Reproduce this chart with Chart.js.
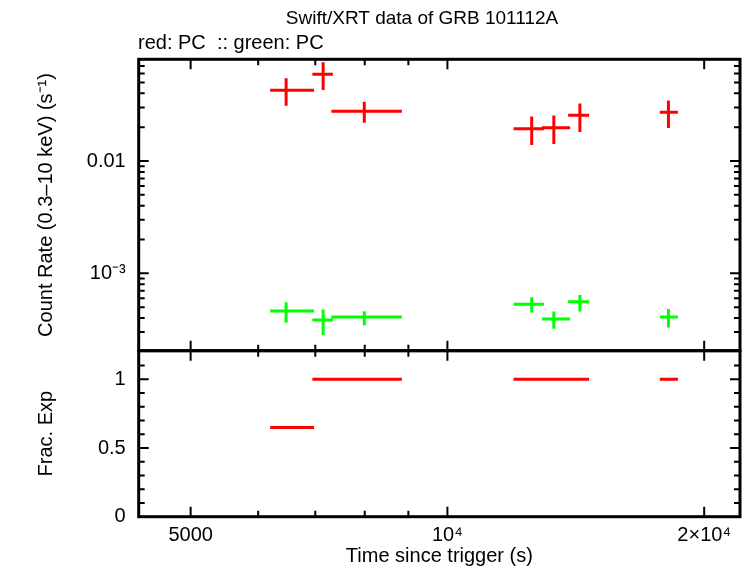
<!DOCTYPE html>
<html><head><meta charset="utf-8">
<script src="https://cdn.jsdelivr.net/npm/chart.js@4/dist/chart.umd.min.js"></script>
<style>
html,body{margin:0;padding:0;background:#fff;}
#wrap{position:relative;width:746px;height:568px;background:#fff;}
canvas{position:absolute;left:0;top:0;}
</style></head><body>
<div id="wrap"><canvas id="cTop" width="746" height="568"></canvas><canvas id="cBot" width="746" height="568"></canvas></div>
<script>
// ---- data ----
const times     = [6470, 7150, 7990, 12555, 13328, 14299, 18160];
const timeLo    = [6197, 6945, 7311, 11955, 12904, 13853, 17742];
const timeHi    = [6977, 7340, 8843, 12973, 13927, 14659, 18630];
const redRate   = [0.0426, 0.0592, 0.0277, 0.0194, 0.0198, 0.0256, 0.0272];
const redLo     = [0.0311, 0.0429, 0.0219, 0.0139, 0.0142, 0.0181, 0.0197];
const redHi     = [0.0545, 0.0757, 0.0337, 0.0249, 0.0254, 0.0325, 0.0346];
const greenRate = [4.62e-4, 3.84e-4, 4.08e-4, 5.31e-4, 3.93e-4, 5.58e-4, 4.08e-4];
const greenLo   = [3.63e-4, 2.82e-4, 3.46e-4, 4.48e-4, 3.22e-4, 4.57e-4, 3.29e-4];
const greenHi   = [5.52e-4, 4.78e-4, 4.59e-4, 6.12e-4, 4.57e-4, 6.43e-4, 4.81e-4];
const fracExp   = [0.65, 1, 1, 1, 1, 1, 1];

const xTickVals  = [5000, 6000, 7000, 8000, 9000, 10000, 20000];
const xMajor     = [5000, 10000, 20000];
const xTickText  = {5000: '5000', 10000: '10⁴', 20000: '2×10⁴'};
const yTopTickVals = [2e-4,3e-4,4e-4,5e-4,6e-4,7e-4,8e-4,9e-4,1e-3,2e-3,3e-3,4e-3,5e-3,6e-3,7e-3,8e-3,9e-3,1e-2,2e-2,3e-2,4e-2,5e-2,6e-2,7e-2,8e-2];
const yTopMajor  = [1e-3, 1e-2];
const yTopText   = {0.001: '10⁻³', 0.01: '0.01'};
const yBotTickVals = [0,0.1,0.2,0.3,0.4,0.5,0.6,0.7,0.8,0.9,1,1.1];
const yBotMajor  = [0, 0.5, 1];
const yBotText   = {0: '0', 0.5: '0.5', 1: '1'};

const titleText = 'Swift/XRT data of GRB 101112A';
const subText = 'red: PC  :: green: PC';

// ---- layout ----
const L = 138.7, R = 740, T = 59.3, M = 350.7, B = 516.7, W = 746, H = 568;
const FONT = 'Liberation Sans, Arial, sans-serif';
const FS = 20;

function errSegments(xs, xl, xh, ys, yl, yh) {
  const pts = [];
  for (let i = 0; i < xs.length; i++) {
    pts.push({x: xl[i], y: ys[i]}, {x: xh[i], y: ys[i]}, {x: xs[i], y: null});
    pts.push({x: xs[i], y: yl[i]}, {x: xs[i], y: yh[i]}, {x: xs[i], y: null});
  }
  return pts;
}
function hSegments(xl, xh, ys) {
  const pts = [];
  for (let i = 0; i < xl.length; i++) {
    pts.push({x: xl[i], y: ys[i]}, {x: xh[i], y: ys[i]}, {x: xh[i], y: null});
  }
  return pts;
}
function near(v, arr) { return arr.some(a => Math.abs(a - v) <= Math.abs(a) * 1e-6 + 1e-12); }
function lookup(map, v) {
  for (const k in map) { const kv = parseFloat(k); if (Math.abs(kv - v) <= Math.abs(kv) * 1e-6 + 1e-12) return map[k]; }
  return '';
}

const framePlugin = {
  id: 'frame',
  afterDatasetsDraw(chart, args, opts) {
    const {ctx, chartArea: a, scales} = chart;
    ctx.save();
    ctx.strokeStyle = '#000';
    ctx.lineWidth = 2;
    ctx.beginPath();
    const xs = scales.x;
    xs.ticks.forEach(t => {
      const px = xs.getPixelForValue(t.value);
      const len = near(t.value, opts.xMajor) ? 10 : 6;
      ctx.moveTo(px, a.top); ctx.lineTo(px, a.top + len);
      ctx.moveTo(px, a.bottom); ctx.lineTo(px, a.bottom - len);
    });
    const ys = scales.y;
    ys.ticks.forEach(t => {
      const py = ys.getPixelForValue(t.value);
      if (py < a.top + 1 || py > a.bottom - 1) return;
      const len = near(t.value, opts.yMajor) ? 10 : 6;
      ctx.moveTo(a.left, py); ctx.lineTo(a.left + len, py);
      ctx.moveTo(a.right, py); ctx.lineTo(a.right - len, py);
    });
    ctx.stroke();
    ctx.lineWidth = 3;
    ctx.strokeRect(a.left, a.top, a.right - a.left, a.bottom - a.top);
    if (opts.title) {
      ctx.fillStyle = '#000';
      ctx.textBaseline = 'middle';
      ctx.font = '19px ' + FONT;
      ctx.textAlign = 'center';
      ctx.fillText(titleText, 422, 19);
      ctx.font = FS + 'px ' + FONT;
      ctx.textAlign = 'left';
      ctx.fillText(subText, 138, 43);
    }
    ctx.restore();
  }
};

const common = {
  responsive: false,
  animation: false,
  events: [],
  plugins: {legend: {display: false}, tooltip: {enabled: false}, title: {display: false}},
  elements: {point: {radius: 0}, line: {borderWidth: 3, borderCapStyle: 'butt', tension: 0}},
};

function xScale(showLabels) {
  return {
    type: 'logarithmic', min: 4346, max: 22030,
    afterBuildTicks: s => { s.ticks = xTickVals.map(v => ({value: v})); },
    afterFit: s => { s.height = showLabels ? (H - B) : 0; },
    grid: {display: false, drawTicks: false},
    border: {display: false},
    ticks: {
      display: showLabels, autoSkip: false, maxRotation: 0, padding: 7,
      color: '#000', font: {family: FONT, size: FS},
      callback: v => lookup(xTickText, v)
    },
    title: showLabels ? {display: true, text: 'Time since trigger (s)', color: '#000',
      font: {family: FONT, size: FS}, padding: {top: 0, bottom: 0}} : {display: false}
  };
}

new Chart(document.getElementById('cTop'), {
  type: 'line',
  data: {datasets: [
    {data: errSegments(times, timeLo, timeHi, redRate, redLo, redHi), borderColor: '#ff0000', spanGaps: false},
    {data: errSegments(times, timeLo, timeHi, greenRate, greenLo, greenHi), borderColor: '#00ff00', spanGaps: false}
  ]},
  options: Object.assign({}, common, {
    layout: {padding: {left: 0, top: T, right: W - R, bottom: H - M}},
    scales: {
      x: xScale(false),
      y: {
        type: 'logarithmic', min: 2.05e-4, max: 0.0804,
        afterBuildTicks: s => { s.ticks = yTopTickVals.map(v => ({value: v})); },
        afterFit: s => { s.width = L; },
        grid: {display: false, drawTicks: false},
        border: {display: false},
        ticks: {autoSkip: false, padding: 13, color: '#000', font: {family: FONT, size: FS},
          callback: v => lookup(yTopText, v)},
        title: {display: true, text: 'Count Rate (0.3–10 keV) (s⁻¹)', color: '#000',
          font: {family: FONT, size: FS}, padding: {top: 34, bottom: 0}}
      }
    },
    plugins: Object.assign({}, common.plugins, {frame: {xMajor: xMajor, yMajor: yTopMajor, title: true}})
  }),
  plugins: [framePlugin]
});

new Chart(document.getElementById('cBot'), {
  type: 'line',
  data: {datasets: [
    {data: hSegments(timeLo, timeHi, fracExp), borderColor: '#ff0000', spanGaps: false}
  ]},
  options: Object.assign({}, common, {
    layout: {padding: {left: 0, top: M, right: W - R, bottom: 0}},
    scales: {
      x: xScale(true),
      y: {
        type: 'linear', min: 0, max: 1.208,
        afterBuildTicks: s => { s.ticks = yBotTickVals.map(v => ({value: v})); },
        afterFit: s => { s.width = L; },
        grid: {display: false, drawTicks: false},
        border: {display: false},
        ticks: {autoSkip: false, padding: 13, color: '#000', font: {family: FONT, size: FS},
          callback: v => lookup(yBotText, v)},
        title: {display: true, text: 'Frac. Exp', color: '#000',
          font: {family: FONT, size: FS}, padding: {top: 34, bottom: 0}}
      }
    },
    plugins: Object.assign({}, common.plugins, {frame: {xMajor: xMajor, yMajor: yBotMajor, title: false}})
  }),
  plugins: [framePlugin]
});
</script>
</body></html>
